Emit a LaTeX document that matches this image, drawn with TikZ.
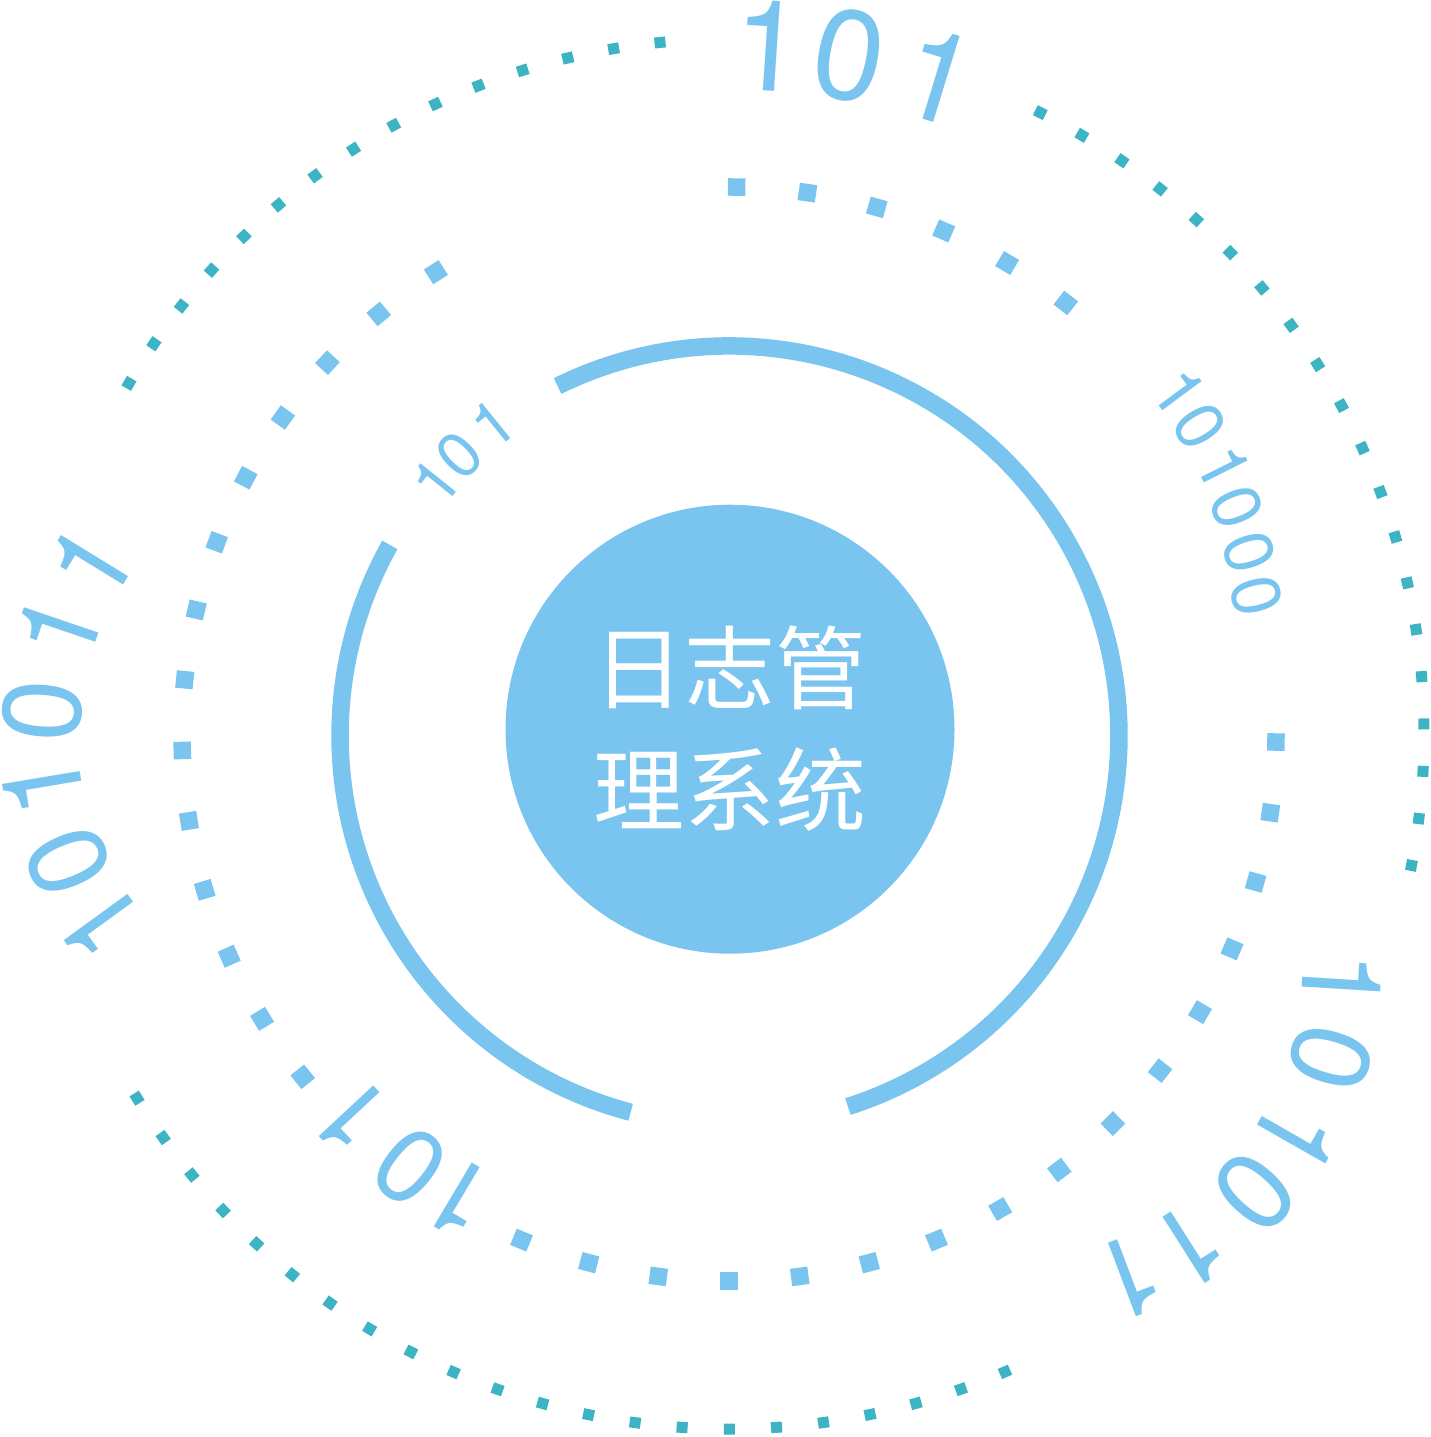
\documentclass[tikz,border=0pt]{standalone}
\usepackage{fontspec}
\setmainfont{TeX Gyre Heros}
\newfontfamily\digfont{TeX Gyre Heros}
\newfontfamily\cjkfont{Noto Sans CJK SC}
\definecolor{skyb}{RGB}{121,197,240}
\definecolor{tealdot}{RGB}{60,180,196}
\newcommand\onedig{\kern0.074em 1}
\tikzset{
  mdot/.style={rectangle, fill=skyb, minimum size=17.5pt, inner sep=0pt},
  odot/.style={rectangle, fill=tealdot, minimum size=11pt, inner sep=0pt},
  ring/.style={draw=skyb, line width=17.5pt, line cap=butt},
  digit/.style={text=skyb, inner sep=0pt, text height={#1*0.72pt}, text depth=0pt, font=\digfont\fontsize{#1pt}{#1pt}\selectfont},
  cjk/.style={text=white, inner sep=0pt, text height=80pt, text depth=11pt, font=\cjkfont\fontsize{91pt}{91pt}\selectfont},
}
\begin{document}
\begin{tikzpicture}[x=1pt,y=1pt]
\useasboundingbox (0,0) rectangle (1431,-1437);

% dotted rings
\begin{scope}[shift={(729,-734)}]
  \foreach \i in {0,...,5}
    \node[mdot, rotate={89.2-7.44*\i}] (ma\i) at ({89.2-7.44*\i}:547) {};
  \foreach \i in {0,...,15}
    \node[mdot, rotate={-0.84-7.43*\i}] (mb\i) at ({-0.84-7.43*\i}:547) {};
  \foreach \i in {0,...,13}
    \node[mdot, rotate={218.8-7.415*\i}] (mc\i) at ({218.8-7.415*\i}:547) {};
  \foreach \i in {0,...,14}
    \node[odot, rotate={95.7+3.857*\i}] (oa\i) at ({95.7+3.857*\i}:695) {};
  \foreach \i in {0,...,21}
    \node[odot, rotate={211.6+3.895*\i}] (ob\i) at ({211.6+3.895*\i}:695) {};
  \foreach \i in {0,...,19}
    \node[odot, rotate={-10.9+3.91*\i}] (oc\i) at ({-10.9+3.91*\i}:695) {};
\end{scope}

% inner ring
\begin{scope}[shift={(729.5,-735.5)}]
  \draw[ring] (116.2:389.5) arc[start angle=116.2, end angle=-72.3, radius=389.5];
  \draw[ring] (150.7:389.5) arc[start angle=150.7, end angle=255.3, radius=389.5];
\end{scope}

% core
\node[circle, fill=skyb, minimum size=449pt, inner sep=0pt] (core) at (730,-729.2) {};
\node[cjk] (c1) at (730,-668) {日志管};
\node[cjk] (c2) at (730,-790) {理系统};

% top 101
\node[digit=127, rotate=-3.8] (ta) at (764,-45) {\onedig};
\node[digit=127, rotate=-10.5] (tb) at (850,-54) {0};
\node[digit=127, rotate=-17.1] (tc) at (934,-75) {\onedig};

% left 101011
\node[digit=111, rotate=126] (la) at (102,-927) {\onedig};
\node[digit=111, rotate=112.9] (lb) at (67,-862) {0};
\node[digit=111, rotate=99.5] (lc) at (43,-790) {\onedig};
\node[digit=111, rotate=85.6] (ld) at (41,-711) {0};
\node[digit=111, rotate=71.2] (le) at (57,-631) {\onedig};
\node[digit=111, rotate=58.5] (lf) at (88,-566) {\onedig};

% bottom-left 101
\node[digit=105, rotate=149.3] (ba) at (462,-1201) {\onedig};
\node[digit=105, rotate=141] (bb) at (409,-1167) {0};
\node[digit=105, rotate=133] (bc) at (354,-1120) {\onedig};

% right 101000
\node[digit=69, rotate=-53.5] (ra) at (1178,-390) {\onedig};
\node[digit=69, rotate=-58.5] (rb) at (1201,-426) {0};
\node[digit=69, rotate=-63.4] (rc) at (1223,-465) {\onedig};
\node[digit=69, rotate=-68] (rd) at (1238,-507) {0};
\node[digit=69, rotate=-72] (re) at (1250,-552) {0};
\node[digit=69, rotate=-75.5] (rf) at (1257,-596) {0};

% bottom-right 101011
\node[digit=111, rotate=-93.6] (qa) at (1343,-978) {\onedig};
\node[digit=111, rotate=-106.5] (qb) at (1332,-1058) {0};
\node[digit=111, rotate=-119.7] (qc) at (1298,-1135) {\onedig};
\node[digit=111, rotate=-132] (qd) at (1256,-1193) {0};
\node[digit=111, rotate=-147.6] (qe) at (1194,-1245) {\onedig};
\node[digit=111, rotate=-159.3] (qf) at (1134,-1276) {\onedig};

% small 101 in inner gap
\node[digit=64, rotate=51.3] (sa) at (434,-483) {\onedig};
\node[digit=64, rotate=45] (sb) at (459,-454.5) {0};
\node[digit=64, rotate=39] (sc) at (491,-424.5) {\onedig};
\end{tikzpicture}
\end{document}
